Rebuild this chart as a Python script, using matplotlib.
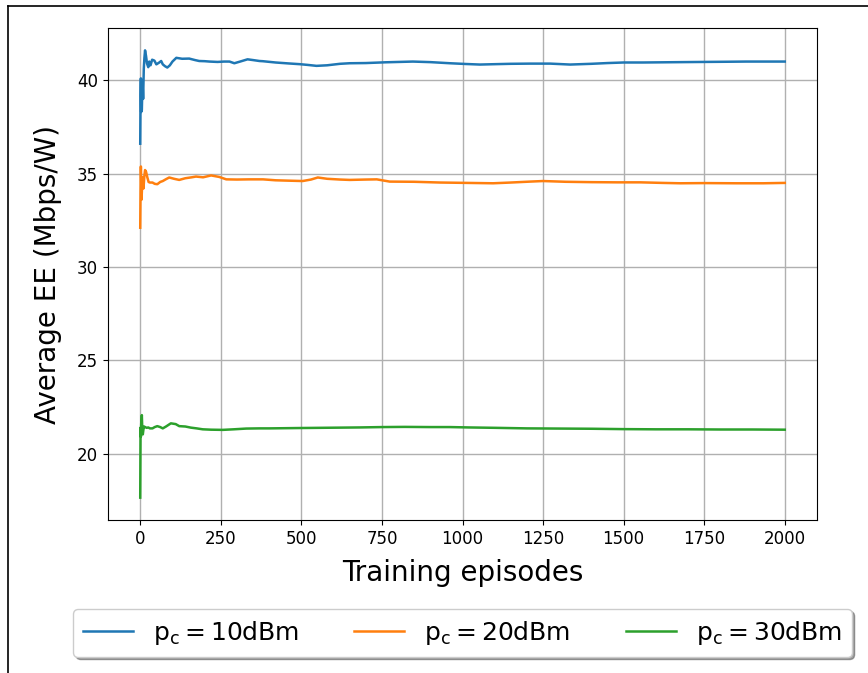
import matplotlib
matplotlib.use("Agg")
import matplotlib.pyplot as plt
from matplotlib.lines import Line2D

# Running-average energy efficiency per training episode
ep_10 = [0, 1, 2, 3, 5, 7, 9, 11, 13, 15, 18, 21, 25, 28, 32, 37, 44, 50, 59, 65, 70, 77,
         84, 92, 100, 112, 130, 152, 170, 183, 200, 215, 240, 260, 277, 292, 310, 333, 350,
         370, 380, 420, 460, 495, 520, 547, 580, 620, 650, 700, 760, 846, 900, 961, 1010,
         1054, 1100, 1150, 1210, 1272, 1334, 1400, 1450, 1500, 1560, 1620, 1680, 1748, 1820,
         1880, 1940, 2000]
ee_10 = [36.6, 39.2, 40.1, 38.3, 38.4, 40.0, 39.0, 40.6, 41.2, 41.6, 41.3, 40.9, 40.7, 41.0,
         40.8, 41.1, 41.05, 40.85, 40.95, 41.03, 40.85, 40.75, 40.68, 40.8, 41.0, 41.2, 41.15,
         41.16, 41.08, 41.03, 41.02, 41.0, 40.98, 41.0, 41.0, 40.91, 41.0, 41.12, 41.08, 41.03,
         41.02, 40.95, 40.9, 40.86, 40.82, 40.77, 40.8, 40.88, 40.91, 40.92, 40.96, 41.0, 40.97,
         40.91, 40.87, 40.84, 40.86, 40.88, 40.89, 40.89, 40.84, 40.88, 40.92, 40.95, 40.95,
         40.96, 40.97, 40.98, 40.99, 41.0, 41.0, 41.0]

ep_20 = [0, 1, 2, 3, 4, 6, 8, 10, 13, 15, 18, 22, 26, 30, 38, 45, 53, 62, 70, 80, 90, 105,
         121, 140, 160, 173, 195, 220, 245, 267, 300, 339, 381, 420, 460, 504, 530, 551, 580,
         620, 650, 700, 734, 774, 850, 930, 1014, 1095, 1150, 1210, 1250, 1320, 1400, 1480,
         1552, 1620, 1676, 1750, 1850, 1934, 2000]
ee_20 = [32.1, 34.2, 35.38, 34.6, 33.6, 34.4, 34.8, 34.2, 34.9, 35.19, 35.1, 34.8, 34.55, 34.52,
         34.52, 34.45, 34.43, 34.55, 34.6, 34.7, 34.79, 34.72, 34.66, 34.75, 34.8, 34.84, 34.8,
         34.9, 34.82, 34.69, 34.68, 34.69, 34.69, 34.64, 34.62, 34.6, 34.68, 34.79, 34.72,
         34.68, 34.66, 34.68, 34.69, 34.57, 34.56, 34.52, 34.5, 34.48, 34.52, 34.57, 34.6,
         34.56, 34.54, 34.53, 34.53, 34.5, 34.48, 34.49, 34.48, 34.48, 34.5]

ep_30 = [0, 1, 2, 3, 4, 5, 6, 8, 10, 12, 15, 20, 25, 30, 38, 45, 53, 62, 70, 80, 95, 110,
         121, 140, 157, 175, 194, 220, 256, 290, 329, 370, 401, 450, 500, 560, 620, 680,
         750, 820, 900, 960, 1020, 1100, 1200, 1300, 1400, 1500, 1600, 1700, 1800, 1900, 2000]
ee_30 = [17.64, 21.39, 20.9, 21.6, 21.8, 22.06, 21.5, 21.03, 21.3, 21.45, 21.42, 21.38, 21.4,
         21.35, 21.35, 21.42, 21.47, 21.42, 21.35, 21.45, 21.62, 21.58, 21.47, 21.45, 21.39,
         21.35, 21.3, 21.28, 21.27, 21.3, 21.34, 21.35, 21.35, 21.36, 21.37, 21.38, 21.39,
         21.4, 21.42, 21.43, 21.42, 21.42, 21.4, 21.38, 21.35, 21.34, 21.33, 21.31, 21.3,
         21.3, 21.29, 21.29, 21.28]

series = [
    (ep_10, ee_10, r"$\mathrm{p_c = 10dBm}$"),
    (ep_20, ee_20, r"$\mathrm{p_c = 20dBm}$"),
    (ep_30, ee_30, r"$\mathrm{p_c = 30dBm}$"),
]

fig = plt.figure(figsize=(8.68, 6.73), dpi=100)
ax = fig.add_axes([108 / 868, 1 - 520 / 673, (817 - 108) / 868, (520 - 28) / 673])

for x, y, label in series:
    ax.plot(x, y, linewidth=1.8, label=label)

ax.grid(True, color="#b0b0b0", linewidth=1.0)
ax.set_xticks([0, 250, 500, 750, 1000, 1250, 1500, 1750, 2000])
ax.tick_params(labelsize=12)
ax.set_xlabel("Training episodes", fontsize=20, labelpad=8)
ax.set_ylabel("Average EE (Mbps/W)", fontsize=20, labelpad=11)

ax.legend(loc="upper center", bbox_to_anchor=(0.5, -0.155), ncol=3, fontsize=18,
          shadow=True, fancybox=True, columnspacing=2.2)

# Outer frame along the left and top edges of the figure
fig.add_artist(Line2D([8 / 868, 8 / 868], [0, 1 - 6 / 673], transform=fig.transFigure,
                      color="black", linewidth=1.2))
fig.add_artist(Line2D([8 / 868, 1], [1 - 6 / 673, 1 - 6 / 673], transform=fig.transFigure,
                      color="black", linewidth=1.2))

fig.savefig("out.png", dpi=100)
